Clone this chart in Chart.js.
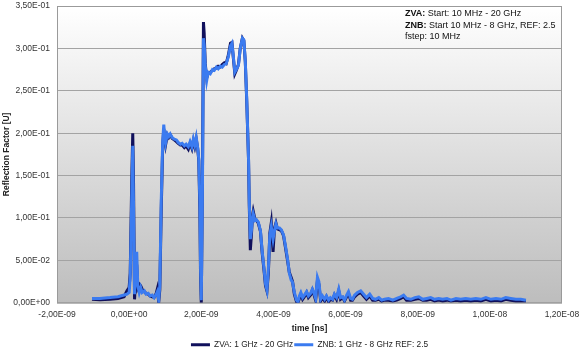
<!DOCTYPE html>
<html><head><meta charset="utf-8">
<script src="https://cdn.jsdelivr.net/npm/chart.js@4.4.1/dist/chart.umd.min.js"></script>
<style>html,body{margin:0;padding:0;background:#fff;}#wrap{width:580px;height:351px;position:relative;}</style>
</head><body><div id="wrap"><canvas id="c"></canvas></div>
<script>
// time axis in ns (labels shown in seconds)
const timeNs = [
-1.03,-0.81,-0.53,-0.31,-0.14,-0.06,0.00,0.03,0.07,0.10,
0.12,0.15,0.18,0.21,0.24,0.28,0.32,0.36,0.42,0.47,
0.53,0.58,0.64,0.69,0.75,0.78,0.82,0.85,0.89,0.93,
0.96,0.99,1.01,1.06,1.10,1.14,1.19,1.25,1.31,1.36,
1.42,1.47,1.53,1.58,1.64,1.69,1.74,1.78,1.82,1.86,
1.90,1.93,1.96,1.98,2.00,2.03,2.06,2.08,2.11,2.15,
2.19,2.25,2.31,2.36,2.42,2.47,2.53,2.58,2.64,2.69,
2.75,2.81,2.85,2.89,2.93,2.97,3.03,3.08,3.14,3.18,
3.22,3.26,3.31,3.33,3.36,3.39,3.42,3.44,3.49,3.53,
3.58,3.64,3.69,3.74,3.78,3.82,3.86,3.90,3.94,3.99,
4.03,4.07,4.11,4.17,4.22,4.28,4.33,4.39,4.44,4.49,
4.53,4.58,4.64,4.68,4.72,4.76,4.81,4.86,4.92,4.97,
5.03,5.08,5.12,5.17,5.22,5.26,5.31,5.36,5.42,5.47,
5.53,5.58,5.64,5.69,5.75,5.81,5.86,5.92,5.97,6.03,
6.08,6.14,6.19,6.25,6.33,6.42,6.50,6.58,6.67,6.75,
6.83,6.92,7.00,7.08,7.19,7.31,7.42,7.53,7.61,7.69,
7.81,7.92,8.03,8.14,8.25,8.36,8.47,8.58,8.69,8.81,
8.92,9.06,9.19,9.33,9.47,9.61,9.75,9.89,10.03,10.17,
10.31,10.44,10.58,10.72,10.86,11.00];

const zvaRefl = [
.004,.0035,.004,.005,.007,.014,.018,.035,.140,.200,
.150,.004,.030,.045,.018,.022,.020,.016,.013,.011,
.010,.008,.007,.006,.011,.016,.001,.015,.110,.185,
.205,.192,.186,.198,.195,.198,.194,.192,.190,.188,
.186,.186,.183,.185,.181,.188,.182,.191,.184,.193,
.182,.168,.110,.030,.000,.130,.331,.318,.282,.265,
.270,.272,.274,.276,.277,.279,.278,.281,.283,.282,
.292,.306,.307,.288,.270,.274,.281,.300,.312,.309,
.284,.238,.168,.115,.062,.080,.103,.108,.098,.097,
.094,.084,.058,.038,.020,.014,.035,.082,.094,.060,
.088,.094,.087,.086,.085,.079,.066,.050,.036,.030,
.025,.010,.001,.000,.005,.010,.004,.007,.012,.006,
.009,.015,.010,.003,.026,.022,.002,.006,.002,.007,
.001,.004,.003,.009,.004,.014,.004,.006,.002,.007,
.011,.003,.003,.007,.010,.012,.008,.004,.008,.003,
.003,.004,.002,.003,.003,.002,.003,.005,.007,.003,
.003,.004,.005,.003,.003,.004,.002,.003,.002,.003,
.002,.003,.002,.003,.002,.003,.002,.004,.002,.003,
.002,.004,.003,.002,.002,.002];

const znbRefl = [
.005,.005,.006,.007,.009,.010,.012,.030,.120,.185,
.120,.010,.040,.060,.020,.012,.018,.012,.014,.010,
.011,.008,.009,.006,.010,.013,.003,.020,.120,.190,
.210,.195,.188,.199,.196,.199,.195,.193,.192,.189,
.187,.188,.185,.187,.184,.190,.184,.193,.186,.195,
.183,.170,.120,.040,.003,.120,.312,.305,.280,.262,
.272,.270,.275,.274,.278,.276,.279,.278,.281,.282,
.290,.303,.306,.290,.272,.275,.280,.300,.312,.310,
.285,.240,.170,.120,.075,.085,.100,.105,.097,.098,
.095,.085,.060,.040,.022,.015,.040,.080,.090,.075,
.085,.093,.088,.088,.086,.080,.068,.052,.035,.027,
.024,.012,.003,.001,.008,.012,.006,.009,.013,.008,
.011,.016,.012,.005,.030,.025,.004,.008,.004,.008,
.003,.006,.004,.010,.006,.016,.006,.007,.003,.009,
.013,.005,.004,.009,.012,.014,.010,.006,.010,.005,
.004,.006,.003,.004,.005,.003,.005,.007,.009,.005,
.004,.006,.007,.004,.005,.006,.004,.005,.004,.005,
.003,.005,.004,.005,.004,.005,.004,.006,.004,.005,
.004,.006,.005,.004,.004,.003];

const seriesNames = ['ZVA: 1 GHz - 20 GHz', 'ZNB: 1 GHz - 8 GHz REF: 2.5'];
const yRange = [0, 0.35, 0.05];
const xRange = [-2, 12, 2];
const axisTitles = ['time [ns]', 'Reflection Factor [U]'];
const noteLines = [['ZVA:', ' Start: 10 MHz - 20 GHz'], ['ZNB:', ' Start 10 MHz - 8 GHz, REF: 2.5'], ['', 'fstep: 10 MHz']];

const FONT = "'Liberation Sans', Arial, sans-serif";

function sci(v) {
  if (Math.abs(v) < 1e-20) return '0,00E+00';
  const s = v.toExponential(2);
  const [m, e] = s.split('e');
  const n = parseInt(e, 10);
  const es = (n < 0 ? '-' : '+') + String(Math.abs(n)).padStart(2, '0');
  return m.replace('.', ',') + 'E' + es;
}

const bgPlugin = {
  id: 'bg',
  afterLayout(chart) {
    const lg = chart.legend;
    if (lg) {
      const w = lg.right - lg.left;
      const cx = (chart.chartArea.left + chart.chartArea.right) / 2;
      lg.left = cx - w / 2;
      lg.right = cx + w / 2;
    }
  },
  beforeDraw(chart) {
    const {ctx, chartArea: a} = chart;
    const g = ctx.createLinearGradient(0, a.top, 0, a.bottom);
    g.addColorStop(0, '#ffffff');
    g.addColorStop(1, '#bdbdbd');
    ctx.save();
    ctx.fillStyle = g;
    ctx.fillRect(a.left, a.top, a.right - a.left, a.bottom - a.top);
    ctx.restore();
  },
  beforeDatasetsDraw(chart) {
    const {ctx, chartArea: a} = chart;
    ctx.save();
    ctx.strokeStyle = '#9a9a9a';
    ctx.lineWidth = 1;
    ctx.strokeRect(a.left + 0.5, a.top + 0.5, a.right - a.left - 1, a.bottom - a.top);
    ctx.restore();
  },
  afterDraw(chart) {
    const {ctx, chartArea: a} = chart;
    ctx.save();
    ctx.fillStyle = '#111';
    ctx.textBaseline = 'middle';
    const x0 = a.right - 157;
    noteLines.forEach((ln, i) => {
      const y = a.top + 8 + i * 11.5;
      let x = x0;
      if (ln[0]) {
        ctx.font = 'bold 9px ' + FONT;
        ctx.fillText(ln[0], x, y);
        x += ctx.measureText(ln[0]).width;
      }
      ctx.font = '9px ' + FONT;
      ctx.fillText(ln[1], x, y);
    });
    ctx.restore();
  }
};

const pts = arr => timeNs.map((t, i) => ({x: t, y: arr[i]}));

new Chart(document.getElementById('c'), {
  type: 'line',
  data: {
    datasets: [
      {label: seriesNames[0], data: pts(zvaRefl), borderColor: '#10105c', backgroundColor: '#10105c', borderWidth: 3, pointRadius: 0, tension: 0, order: 1},
      {label: seriesNames[1], data: pts(znbRefl), borderColor: '#3b7bf0', backgroundColor: '#3b7bf0', borderWidth: 3, pointRadius: 0, tension: 0, order: 0}
    ]
  },
  options: {
    responsive: true,
    maintainAspectRatio: false,
    animation: false,
    devicePixelRatio: 1,
    layout: {padding: {left: 0, right: 18, top: 6, bottom: -8}},
    plugins: {
      tooltip: {enabled: false},
      legend: {
        position: 'bottom',
        reverse: true,
        labels: {usePointStyle: true, pointStyle: 'line', pointStyleWidth: 19, padding: 1, color: '#222', font: {family: FONT, size: 8.3}}
      }
    },
    scales: {
      x: {
        type: 'linear', min: xRange[0], max: xRange[1],
        afterFit(s) { s.height = 37; s.paddingLeft = 0; s.paddingRight = 0; },
        ticks: {stepSize: xRange[2], padding: 7, color: '#333', font: {family: FONT, size: 8.5}, callback: v => sci(v * 1e-9), maxRotation: 0},
        grid: {display: false, drawTicks: false},
        border: {display: false},
        title: {display: true, text: axisTitles[0], color: '#222', font: {family: FONT, size: 8.5, weight: 'bold'}, padding: {top: 0, bottom: 6}}
      },
      y: {
        min: yRange[0], max: yRange[1],
        afterFit(s) { s.width = 57; s.paddingTop = 0; s.paddingBottom = 0; },
        ticks: {stepSize: yRange[2], padding: 7, color: '#333', font: {family: FONT, size: 8.5}, callback: v => sci(v)},
        grid: {color: '#a3a3a3', drawTicks: false, lineWidth: 1},
        border: {display: false},
        title: {display: true, text: axisTitles[1], color: '#222', font: {family: FONT, size: 8.5, weight: 'bold'}, padding: {top: 2, bottom: 0}}
      }
    }
  },
  plugins: [bgPlugin]
});
</script></body></html>
